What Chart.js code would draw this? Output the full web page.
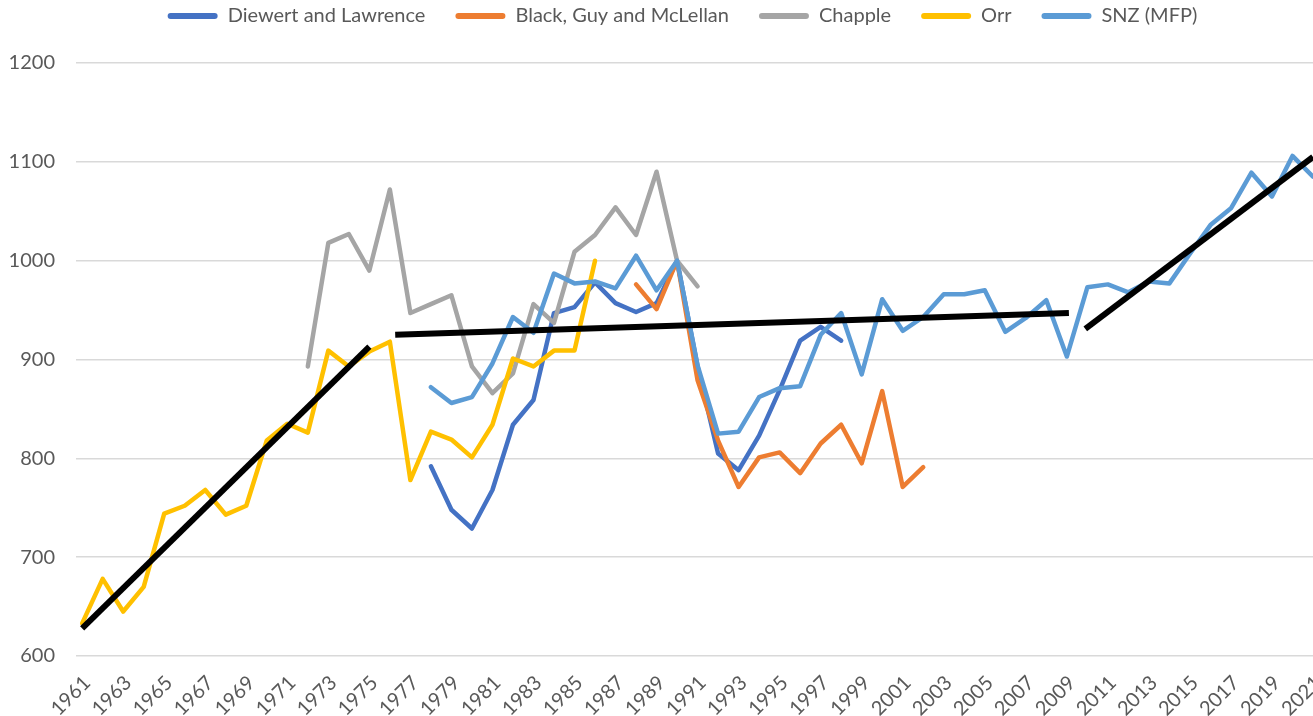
<!DOCTYPE html>
<html>
<head>
<meta charset="utf-8">
<script src="https://cdn.jsdelivr.net/npm/chart.js@4.4.1/dist/chart.umd.min.js"></script>
<style>
html,body{margin:0;padding:0;background:#ffffff;}
#wrap{width:1313px;height:716px;position:relative;}
</style>
</head>
<body>
<div id="wrap"><canvas id="c"></canvas></div>
<script>
// ---- data ----
const tickYears = [1961,1963,1965,1967,1969,1971,1973,1975,1977,1979,1981,1983,1985,1987,1989,1991,1993,1995,1997,1999,2001,2003,2005,2007,2009,2011,2013,2015,2017,2019,2021];
const yTicks = [600,700,800,900,1000,1100,1200];
const seriesNames = ["Diewert and Lawrence","Black, Guy and McLellan","Chapple","Orr","SNZ (MFP)"];

const diewertStart = 1978;
const diewertValues = [792,748,729,768,834,859,947,953,978,957,948,957,1000,893,805,788,823,869,919,933,919];

const blackStart = 1988;
const blackValues = [976,951,1000,879,818,771,801,806,785,815,834,795,868,771,791];

const chappleStart = 1972;
const chappleValues = [893,1018,1027,990,1072,947,956,965,893,866,886,956,937,1009,1026,1054,1026,1090,1000,974];

const orrStart = 1961;
const orrValues = [633,678,645,670,744,752,768,743,752,818,835,826,909,893,908,918,778,827,819,801,834,901,893,909,909,1000];

const snzStart = 1978;
const snzValues = [872,856,862,896,943,927,987,977,979,972,1005,970,1000,894,825,827,862,871,873,925,947,885,961,929,943,966,966,970,928,942,960,903,973,976,968,979,977,1007,1036,1053,1089,1065,1106,1085];

// trend lines (black)
const trend1Years = [1961, 1975];
const trend1Values = [628, 913];
const trend2Years = [1976.26, 2009.1];
const trend2Values = [925, 947];
const trend3Years = [2009.9, 2021];
const trend3Values = [931, 1105];

const seriesColors = ["#4472C4","#ED7D31","#A5A5A5","#FFC000","#5B9BD5"];

// ---- build ----
function pts(start, vals){ return vals.map((v,i)=>({x:start+i, y:v})); }
function pairPts(xs, ys){ return xs.map((x,i)=>({x:x, y:ys[i]})); }

const starts = [diewertStart, blackStart, chappleStart, orrStart, snzStart];
const vals = [diewertValues, blackValues, chappleValues, orrValues, snzValues];

const datasets = seriesNames.map((name,i)=>({
  label: name,
  data: pts(starts[i], vals[i]),
  borderColor: seriesColors[i],
  backgroundColor: seriesColors[i],
  borderWidth: 4.5,
  pointRadius: 0,
  pointHoverRadius: 0,
  tension: 0,
  borderJoinStyle: 'round',
  borderCapStyle: 'round',
  order: 5 - i + 1
}));
[[trend1Years,trend1Values],[trend2Years,trend2Values],[trend3Years,trend3Values]].forEach((t,k)=>{
  datasets.push({
    label: 'trend' + (k+1),
    isTrend: true,
    data: pairPts(t[0], t[1]),
    borderColor: '#000000',
    backgroundColor: '#000000',
    borderWidth: 6,
    pointRadius: 0,
    pointHoverRadius: 0,
    tension: 0,
    borderCapStyle: 'butt',
    order: 0
  });
});

Chart.defaults.font.family = "Lato, 'Liberation Sans', sans-serif";
Chart.defaults.font.size = 20;
Chart.defaults.color = '#595959';

const legendShift = {
  id: 'legendShift',
  beforeInit(chart){
    const lg = chart.legend;
    const origFit = lg.fit;
    lg.fit = function(){ origFit.call(this); this.height = 87; };
  },
  afterLayout(chart){
    chart.legend.left += 26;
    chart.legend.right += 26;
  }
};

new Chart(document.getElementById('c'), {
  type: 'line',
  data: { datasets },
  plugins: [legendShift],
  options: {
    responsive: true,
    maintainAspectRatio: false,
    animation: false,
    layout: { padding: { top: -24, left: 0, right: 0, bottom: 0 } },
    plugins: {
      tooltip: { enabled: false },
      legend: {
        display: true,
        position: 'top',
        labels: {
          boxWidth: 50,
          boxHeight: 6,
          padding: 30,
          useBorderRadius: true,
          borderRadius: 3,
          color: '#595959',
          font: { size: 20 },
          filter: (item, data) => !data.datasets[item.datasetIndex].isTrend,
          sort: (a, b) => a.datasetIndex - b.datasetIndex,
          generateLabels: (chart) => {
            const items = Chart.defaults.plugins.legend.labels.generateLabels(chart);
            return items.map(it => Object.assign(it, { lineWidth: 0, fillStyle: it.strokeStyle }));
          }
        }
      }
    },
    scales: {
      x: {
        type: 'linear',
        min: 1960.7,
        max: 2021,
        grid: { display: false, drawTicks: false },
        border: { display: false },
        afterBuildTicks: (scale) => { scale.ticks = tickYears.map(v => ({ value: v })); },
        afterFit: (scale) => { scale.height = 60; scale.paddingLeft = 0; scale.paddingRight = 0; },
        ticks: {
          autoSkip: false,
          minRotation: 45,
          maxRotation: 45,
          padding: 15,
          labelOffset: 5,
          color: '#595959',
          font: { size: 20 },
          callback: (v) => String(v)
        }
      },
      y: {
        type: 'linear',
        min: 600,
        max: 1200,
        afterBuildTicks: (scale) => { scale.ticks = yTicks.map(v => ({ value: v })); },
        afterFit: (scale) => { scale.width = 76; },
        grid: { color: '#d9d9d9', lineWidth: 1.5, drawTicks: false },
        border: { display: false },
        ticks: {
          padding: 21,
          color: '#595959',
          font: { size: 20 },
          callback: (v) => String(v)
        }
      }
    }
  }
});
</script>
</body>
</html>
